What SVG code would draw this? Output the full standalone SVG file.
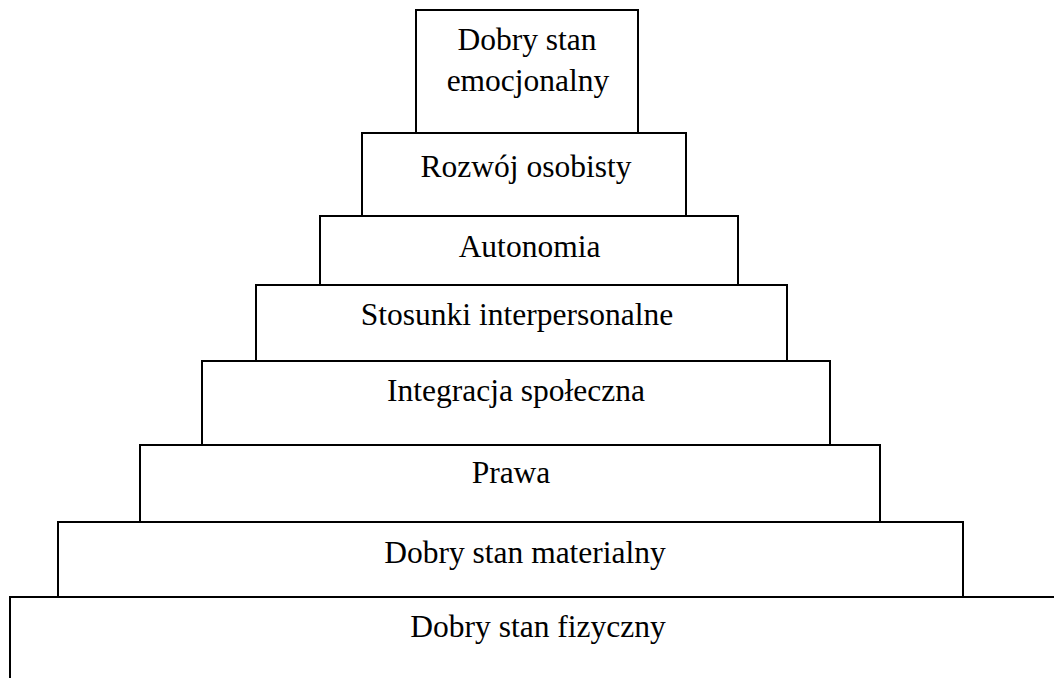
<svg xmlns="http://www.w3.org/2000/svg" width="1054" height="678" viewBox="0 0 1054 678">
  <style>
    .box { fill: none; stroke: #000; stroke-width: 2; }
    .lbl { font-family: "Liberation Serif", "Times New Roman", serif; font-size: 31.5px; fill: #000; text-anchor: middle; }
  </style>
  <rect width="1054" height="678" fill="#fff"/>
  <!-- pyramid levels, top to bottom -->
  <g id="level-emocjonalny">
    <rect class="box" x="416" y="10" width="222" height="123"/>
    <text class="lbl" x="527" y="50">Dobry stan</text>
    <text class="lbl" x="528" y="91">emocjonalny</text>
  </g>
  <g id="level-rozwoj">
    <rect class="box" x="362" y="133" width="324" height="83"/>
    <text class="lbl" x="526" y="177">Rozwój osobisty</text>
  </g>
  <g id="level-autonomia">
    <rect class="box" x="320" y="216" width="418" height="69"/>
    <text class="lbl" x="529.5" y="257">Autonomia</text>
  </g>
  <g id="level-stosunki">
    <rect class="box" x="256" y="285" width="531" height="76"/>
    <text class="lbl" x="517" y="325">Stosunki interpersonalne</text>
  </g>
  <g id="level-integracja">
    <rect class="box" x="202" y="361" width="628" height="84"/>
    <text class="lbl" x="516" y="401">Integracja społeczna</text>
  </g>
  <g id="level-prawa">
    <rect class="box" x="140" y="445" width="740" height="77"/>
    <line class="box" x1="129" y1="522" x2="140" y2="522"/>
    <text class="lbl" x="511" y="483">Prawa</text>
  </g>
  <g id="level-materialny">
    <rect class="box" x="58" y="522" width="905" height="75"/>
    <text class="lbl" x="525" y="563">Dobry stan materialny</text>
  </g>
  <g id="level-fizyczny">
    <path class="box" d="M10 679 V597 H1055"/>
    <text class="lbl" x="538" y="637">Dobry stan fizyczny</text>
  </g>
  <g id="connectors"></g>
</svg>
